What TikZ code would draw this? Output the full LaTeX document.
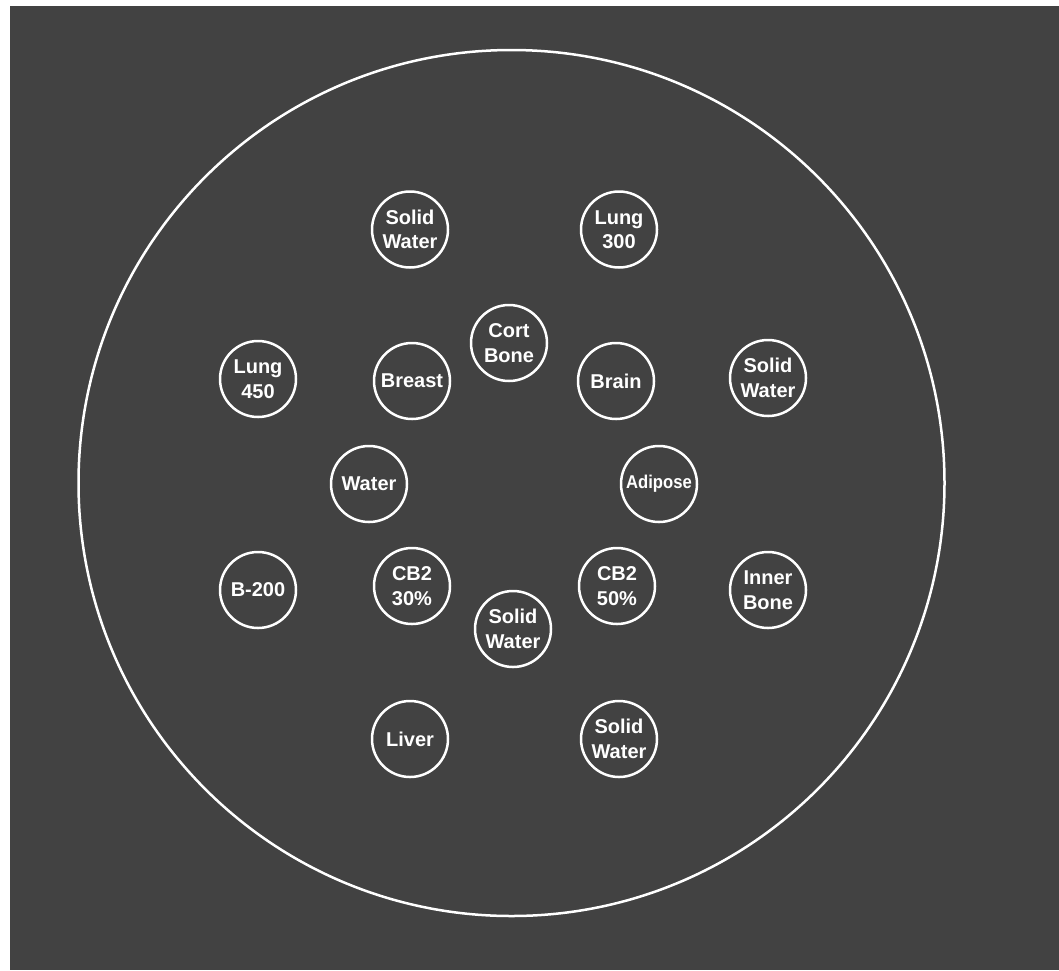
\documentclass[tikz,border=0pt]{standalone}
\usepackage{fontspec}
\setmainfont{Liberation Sans}
\definecolor{bg}{HTML}{424242}
\tikzset{
  ph/.style={circle, draw=white, line width=2.5pt, minimum size=76pt, inner sep=0pt, align=center, text=white, font=\fontsize{20}{24.5}\selectfont\bfseries},
}
\begin{document}
\begin{tikzpicture}[x=1pt,y=-1pt]
\useasboundingbox[fill=white] (0,0) rectangle (1059,970);
\fill[bg] (10,6) rectangle (1059,970);
\node[circle, draw=white, line width=2.5pt, minimum size=866pt, inner sep=0pt] (phantom) at (511.5,483) {};
\node[ph] (sw1) at (410,229.5) {Solid\\Water};
\node[ph] (l300) at (619,229.5) {Lung\\300};
\node[ph] (cort) at (509,343) {Cort\\Bone};
\node[ph] (l450) at (258,379) {Lung\\450};
\node[ph] (breast) at (412,381) {Breast};
\node[ph] (brain) at (616,381) {Brain};
\node[ph] (sw2) at (768,378) {Solid\\Water};
\node[ph] (water) at (369,484) {Water};
\node[ph, font=\fontsize{18.5}{20}\selectfont\bfseries] (adipose) at (659,484) {\scalebox{0.9}[1]{Adipose}};
\node[ph] (b200) at (258,590) {B-200};
\node[ph] (cb30) at (412,586) {CB2\\30\%};
\node[ph] (sw3) at (513,629) {Solid\\Water};
\node[ph] (cb50) at (617,586) {CB2\\50\%};
\node[ph] (inner) at (768,590) {Inner\\Bone};
\node[ph] (liver) at (410,739) {Liver};
\node[ph] (sw4) at (619,739) {Solid\\Water};
\end{tikzpicture}
\end{document}
